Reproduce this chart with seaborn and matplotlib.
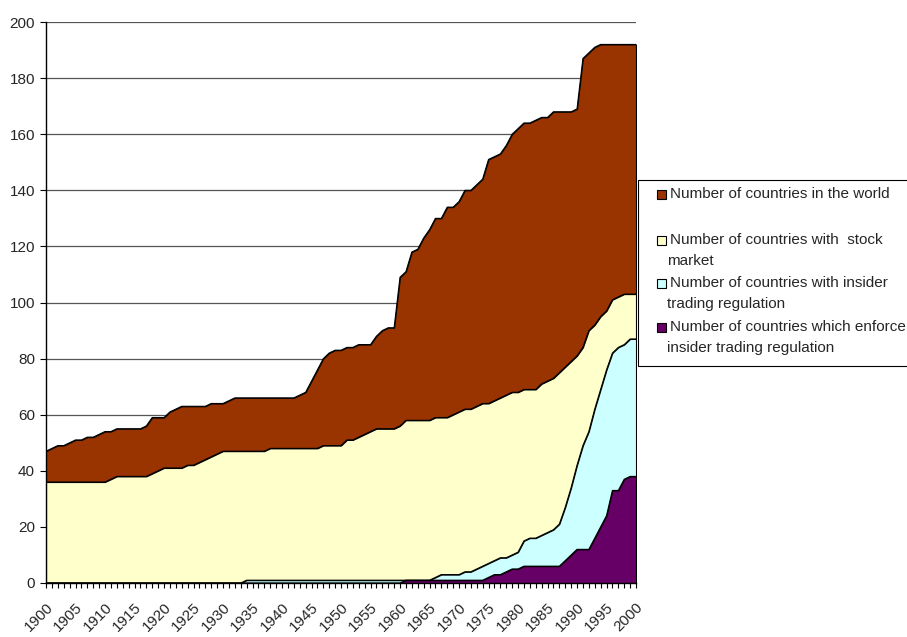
import numpy as np
import pandas as pd
import matplotlib.pyplot as plt
import seaborn as sns
from matplotlib.patches import Rectangle
from matplotlib.ticker import MultipleLocator

# --------------------------------------------------------------------------------
# Data (one value per year 1900 - 2000)
# --------------------------------------------------------------------------------

Years = list(range(1900, 2001))

World = [47, 48, 49, 49, 50, 51, 51, 52, 52, 53,
         54, 54, 55, 55, 55, 55, 55, 56, 59, 59,
         59, 61, 62, 63, 63, 63, 63, 63, 64, 64,
         64, 65, 66, 66, 66, 66, 66, 66, 66, 66,
         66, 66, 66, 67, 68, 72, 76, 80, 82, 83,
         83, 84, 84, 85, 85, 85, 88, 90, 91, 91,
         109, 111, 118, 119, 123, 126, 130, 130, 134, 134,
         136, 140, 140, 142, 144, 151, 152, 153, 156, 160,
         162, 164, 164, 165, 166, 166, 168, 168, 168, 168,
         169, 187, 189, 191, 192, 192, 192, 192, 192, 192,
         192]

Stock_Market = [36, 36, 36, 36, 36, 36, 36, 36, 36, 36,
                36, 37, 38, 38, 38, 38, 38, 38, 39, 40,
                41, 41, 41, 41, 42, 42, 43, 44, 45, 46,
                47, 47, 47, 47, 47, 47, 47, 47, 48, 48,
                48, 48, 48, 48, 48, 48, 48, 49, 49, 49,
                49, 51, 51, 52, 53, 54, 55, 55, 55, 55,
                56, 58, 58, 58, 58, 58, 59, 59, 59, 60,
                61, 62, 62, 63, 64, 64, 65, 66, 67, 68,
                68, 69, 69, 69, 71, 72, 73, 75, 77, 79,
                81, 84, 90, 92, 95, 97, 101, 102, 103, 103,
                103]

Insider_Regulation = [0, 0, 0, 0, 0, 0, 0, 0, 0, 0,
                      0, 0, 0, 0, 0, 0, 0, 0, 0, 0,
                      0, 0, 0, 0, 0, 0, 0, 0, 0, 0,
                      0, 0, 0, 0, 1, 1, 1, 1, 1, 1,
                      1, 1, 1, 1, 1, 1, 1, 1, 1, 1,
                      1, 1, 1, 1, 1, 1, 1, 1, 1, 1,
                      1, 1, 1, 1, 1, 1, 2, 3, 3, 3,
                      3, 4, 4, 5, 6, 7, 8, 9, 9, 10,
                      11, 15, 16, 16, 17, 18, 19, 21, 27, 34,
                      42, 49, 54, 62, 69, 76, 82, 84, 85, 87,
                      87]

Insider_Enforced = [0, 0, 0, 0, 0, 0, 0, 0, 0, 0,
                    0, 0, 0, 0, 0, 0, 0, 0, 0, 0,
                    0, 0, 0, 0, 0, 0, 0, 0, 0, 0,
                    0, 0, 0, 0, 0, 0, 0, 0, 0, 0,
                    0, 0, 0, 0, 0, 0, 0, 0, 0, 0,
                    0, 0, 0, 0, 0, 0, 0, 0, 0, 0,
                    0, 1, 1, 1, 1, 1, 1, 1, 1, 1,
                    1, 1, 1, 1, 1, 2, 3, 3, 4, 5,
                    5, 6, 6, 6, 6, 6, 6, 6, 8, 10,
                    12, 12, 12, 16, 20, 24, 33, 33, 37, 38,
                    38]

Labels = ["Number of countries in the world",
          "Number of countries with  stock\nmarket",
          "Number of countries with insider\ntrading regulation",
          "Number of countries which enforce\ninsider trading regulation"]

Colors = ["#993300", "#FFFFCC", "#CCFFFF", "#660066"]

df = pd.DataFrame({"Year": Years,
                   Labels[0]: World,
                   Labels[1]: Stock_Market,
                   Labels[2]: Insider_Regulation,
                   Labels[3]: Insider_Enforced})

# --------------------------------------------------------------------------------
# Style
# --------------------------------------------------------------------------------

sns.set_style("white")
plt.rcParams["font.family"] = ["Liberation Sans", "DejaVu Sans"]
plt.rcParams["font.size"] = 11

W, H = 907, 637
fig = plt.figure(figsize = (W / 100, H / 100), dpi = 100)
ax = fig.add_axes([46 / W, 1 - 583 / H, (636 - 46) / W, (583 - 22) / H])

# --------------------------------------------------------------------------------
# Overlapping areas, each one drawn from zero
# --------------------------------------------------------------------------------

for Label, Color in zip(Labels, Colors):
    ax.fill_between(df["Year"], 0, df[Label], facecolor = Color,
                    edgecolor = "black", linewidth = 0.8, zorder = 2)
    sns.lineplot(data = df, x = "Year", y = Label, color = "black",
                 linewidth = 0.8, ax = ax, zorder = 3)

# --------------------------------------------------------------------------------
# Axes
# --------------------------------------------------------------------------------

ax.set_xlim(1900, 2000)
ax.set_ylim(0, 200)
ax.set_xlabel("")
ax.set_ylabel("")

ax.yaxis.set_major_locator(MultipleLocator(20))
ax.grid(axis = "y", color = "#555555", linewidth = 0.9, zorder = 0)
ax.set_axisbelow(True)

ax.xaxis.set_major_locator(MultipleLocator(5))
ax.xaxis.set_minor_locator(MultipleLocator(1))
ax.tick_params(axis = "x", which = "both", direction = "out", length = 3.5,
               width = 0.8, color = "black", bottom = True, pad = 9, labelsize = 11)
ax.tick_params(axis = "y", which = "major", direction = "out", length = 4,
               width = 0.8, color = "black", left = True, pad = 4, labelsize = 11)

for Tick in ax.get_xticklabels():
    Tick.set_rotation(45)
    Tick.set_ha("right")
    Tick.set_rotation_mode("anchor")

for Side in ["top", "right"]:
    ax.spines[Side].set_visible(False)
for Side in ["left", "bottom"]:
    ax.spines[Side].set_color("black")
    ax.spines[Side].set_linewidth(1.0)

# --------------------------------------------------------------------------------
# Legend box (Excel style, running off the right edge)
# --------------------------------------------------------------------------------

fig.patches.append(Rectangle((638 / W, 1 - 366 / H), (W - 638 + 10) / W, (366 - 180) / H,
                             transform = fig.transFigure, facecolor = "white",
                             edgecolor = "black", linewidth = 0.8))

Rows = [194, 240, 283, 327]
for Label, Color, Row in zip(Labels, Colors, Rows):
    fig.patches.append(Rectangle((657 / W, 1 - (Row + 4.5) / H), 9 / W, 9 / H,
                                 transform = fig.transFigure, facecolor = Color,
                                 edgecolor = "black", linewidth = 0.8))
    Lines = Label.split("\n")
    fig.text(670 / W, 1 - Row / H, Lines[0], va = "center", ha = "left", fontsize = 11)
    if len(Lines) > 1:
        fig.text(667 / W, 1 - (Row + 21) / H, Lines[1], va = "center", ha = "left", fontsize = 11)

fig.savefig("out.png", dpi = 100)
